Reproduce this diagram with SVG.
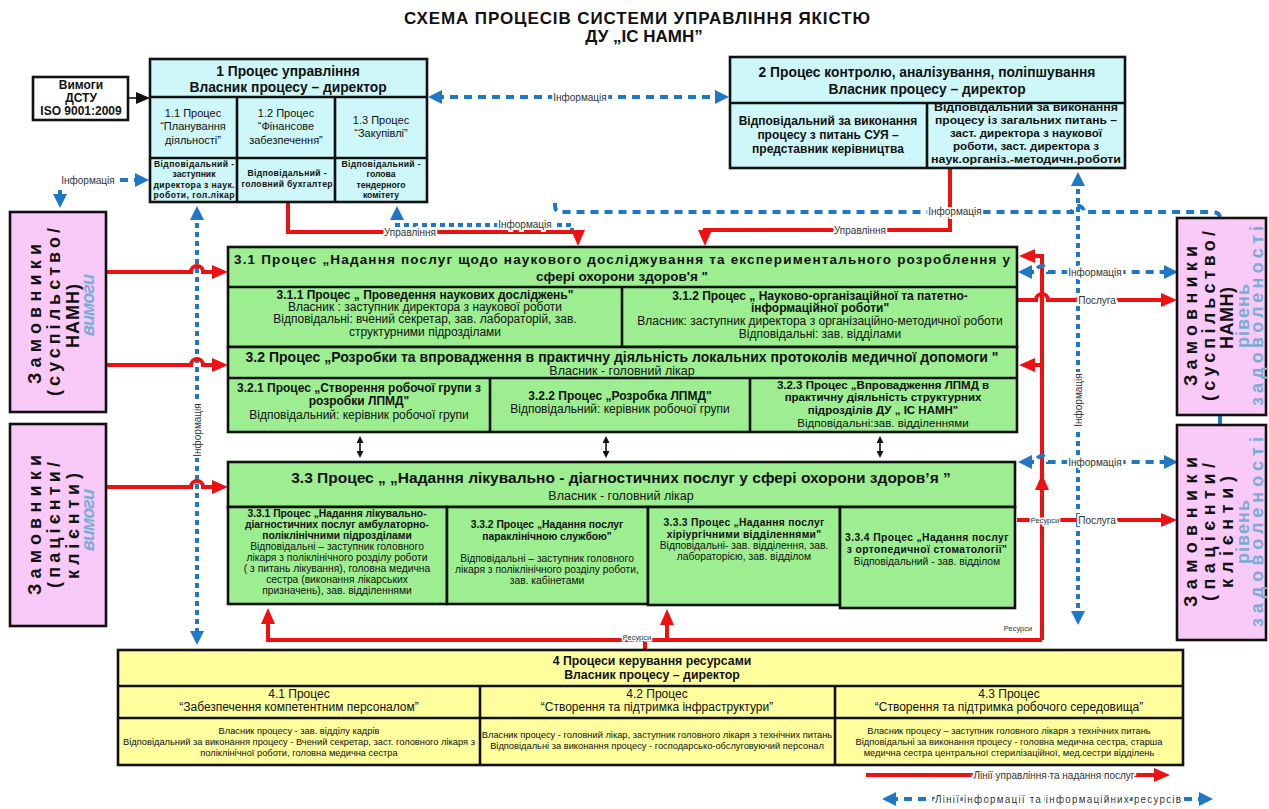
<svg xmlns="http://www.w3.org/2000/svg" width="1269" height="809" viewBox="0 0 1269 809">
<defs>
<style>
text{font-family:"Liberation Sans",Arial,sans-serif;fill:#111;}
.t{text-anchor:middle;}
.b{font-weight:bold;}
.box{stroke:#111;stroke-width:2.6;}
.cy{fill:#cdf7f8;}
.gr{fill:#9cee90;}
.ye{fill:#ffff9e;}
.pk{fill:#f9c9f7;}
.wh{fill:#fff;}
.red{fill:none;stroke:#ee1111;stroke-width:4;}
.bl{fill:none;stroke:#1f78c6;stroke-width:4;stroke-dasharray:8 6;}
.bd{fill:none;stroke:#1f78c6;stroke-width:4;stroke-dasharray:5 4;}
.blk{fill:none;stroke:#111;stroke-width:1.6;}
.lbl{font-size:10px;fill:#333;stroke:#fff;stroke-width:4;paint-order:stroke;text-anchor:middle;}
.sl{font-size:7.5px;fill:#333;stroke:#fff;stroke-width:3;paint-order:stroke;text-anchor:middle;}
.rot{font-size:18px;font-weight:bold;text-anchor:middle;}
.blu{fill:#78acd8;}
.s1{font-size:12px;}
.s3{font-size:10.3px;}
.s4{font-size:9.3px;}
.r1{font-size:8.6px;font-weight:bold;}
</style>
<marker id="ra" markerWidth="16" markerHeight="14" refX="8" refY="7" orient="auto" markerUnits="userSpaceOnUse"><path d="M0,0 L16,7 L0,14 Z" fill="#ee1111"/></marker>
<marker id="ba" markerWidth="14" markerHeight="14" refX="6" refY="7" orient="auto-start-reverse" markerUnits="userSpaceOnUse"><path d="M0,0 L14,7 L0,14 Z" fill="#1f78c6"/></marker>
<marker id="ka" markerWidth="14" markerHeight="12" refX="6" refY="6" orient="auto" markerUnits="userSpaceOnUse"><path d="M0,0 L14,6 L0,12 Z" fill="#111"/></marker>
<marker id="ks" markerWidth="7" markerHeight="7" refX="3" refY="3.5" orient="auto-start-reverse" markerUnits="userSpaceOnUse"><path d="M0,0 L7,3.5 L0,7 Z" fill="#111"/></marker>
</defs>
<rect width="1269" height="809" fill="#fff"/>

<g id="title">
<text x="637" y="24" class="t b" font-size="17" textLength="466" lengthAdjust="spacing">СХЕМА ПРОЦЕСІВ СИСТЕМИ УПРАВЛІННЯ ЯКІСТЮ</text>
<text x="644" y="42" class="t b" font-size="17">ДУ „ІС НАМН”</text>
</g>

<g id="connectors">
<path d="M128,98 H142" class="blk" stroke-width="4" marker-end="url(#ka)"/>
<path d="M436,97 H721" class="bl" marker-start="url(#ba)" marker-end="url(#ba)"/>
<path d="M120,180 H141" class="bl" marker-end="url(#ba)"/>
<path d="M60,190 V200" class="bl" marker-end="url(#ba)"/>
<path d="M197,214 V637" class="bd" marker-start="url(#ba)" marker-end="url(#ba)"/>
<path d="M397,214 V225 H572 V236" class="bd" marker-start="url(#ba)"/>
<path d="M288,203 V232 H578 V238" class="red" marker-end="url(#ra)"/>
<path d="M950,168 V230 H705 V238" class="red" marker-end="url(#ra)"/>
<path d="M555,203 V206 Q555,212 561,212 H1072 A6,6 0 0 1 1084,212 H1212 Q1220,212 1220,218" class="bl"/>
<path d="M1078,180 V617" class="bd" marker-start="url(#ba)" marker-end="url(#ba)"/>
<path d="M106,272 H191 A6,6 0 0 1 203,272 H220" class="red" marker-end="url(#ra)"/>
<path d="M106,365 H191 A6,6 0 0 1 203,365 H220" class="red" marker-end="url(#ra)"/>
<path d="M106,487 H191 A6,6 0 0 1 203,487 H220" class="red" marker-end="url(#ra)"/>
<path d="M1042,640 V256 H1027" class="red" marker-end="url(#ra)"/>
<path d="M1042,365 H1027" class="red" marker-end="url(#ra)"/>
<path d="M1042,492 V482" class="red" marker-end="url(#ra)"/>
<path d="M1017,300 H1036 A6,6 0 0 1 1048,300 H1169" class="red" marker-end="url(#ra)"/>
<path d="M1017,520 H1169" class="red" marker-end="url(#ra)"/>
<path d="M1026,272 H1036 A6,6 0 0 1 1048,272 H1170" class="bl" marker-start="url(#ba)" marker-end="url(#ba)"/>
<path d="M1026,462 H1036 A6,6 0 0 1 1048,462 H1170" class="bl" marker-start="url(#ba)" marker-end="url(#ba)"/>
<path d="M1042,640 H268 V616" class="red" marker-end="url(#ra)"/>
<path d="M667,640 V617" class="red" marker-end="url(#ra)"/>
<path d="M645,651 V640" class="red"/>
<path d="M1220,416 V424" class="bl"/>
<path d="M360,440 V454" class="blk" marker-start="url(#ks)" marker-end="url(#ks)"/>
<path d="M606,440 V454" class="blk" marker-start="url(#ks)" marker-end="url(#ks)"/>
<path d="M880,440 V454" class="blk" marker-start="url(#ks)" marker-end="url(#ks)"/>
<text x="580" y="101" class="lbl">Інформація</text>
<text x="88" y="184" class="lbl">Інформація</text>
<text x="525" y="228" class="lbl">Інформація</text>
<text x="410" y="236" class="lbl">Управління</text>
<text x="860" y="234" class="lbl">Управління</text>
<text x="955" y="215" class="lbl">Інформація</text>
<text transform="translate(201,430) rotate(-90)" class="lbl">Інформація</text>
<text transform="translate(1082,400) rotate(-90)" class="lbl">Інформація</text>
<text x="1095" y="276" class="lbl">Інформація</text>
<text x="1095" y="466" class="lbl">Інформація</text>
<text x="1097" y="304" class="lbl">Послуга</text>
<text x="1097" y="524" class="lbl">Послуга</text>
<text x="1045" y="523" class="sl">Ресурси</text>
<text x="637" y="640" class="sl">Ресурси</text>
<text x="1018" y="631" class="sl">Ресурси</text>
</g>

<g id="iso">
<rect x="33" y="77" width="95" height="43" class="box wh" stroke-width="3"/>
<text x="81" y="89" class="t b" font-size="12">Вимоги</text>
<text x="81" y="102" class="t b" font-size="12">ДСТУ</text>
<text x="81" y="115" class="t b" font-size="12">ISO 9001:2009</text>
</g>

<g id="p1">
<rect x="150" y="59" width="277" height="143" class="box cy"/>
<path d="M150,97 H427 M150,158 H427 M237,97 V202 M335,97 V202" class="box" fill="none"/>
<text x="288" y="76" class="t b" font-size="13.8">1  Процес управління</text>
<text x="288" y="92" class="t b" font-size="13.8">Власник процесу – директор</text>
<text x="193" y="117" class="t" font-size="11">1.1 Процес</text>
<text x="193" y="130" class="t" font-size="11">“Планування</text>
<text x="193" y="144" class="t" font-size="11">діяльності”</text>
<text x="286" y="117" class="t" font-size="11">1.2 Процес</text>
<text x="286" y="130" class="t" font-size="11">“Фінансове</text>
<text x="286" y="144" class="t" font-size="11">забезпечення”</text>
<text x="381" y="124" class="t" font-size="11">1.3 Процес</text>
<text x="381" y="137" class="t" font-size="11">“Закупівлі”</text>
<text x="194" y="167" class="t r1" textLength="80">Відповідальний -</text>
<text x="194" y="177" class="t r1">заступник</text>
<text x="194" y="188" class="t r1" textLength="81">директора з наук.</text>
<text x="194" y="198" class="t r1" textLength="81">роботи, гол.лікар</text>
<text x="287" y="176" class="t r1" textLength="79">Відповідальний -</text>
<text x="287" y="187" class="t r1" textLength="91">головний бухгалтер</text>
<text x="381" y="167" class="t r1" textLength="79">Відповідальний -</text>
<text x="381" y="177" class="t r1">голова</text>
<text x="381" y="188" class="t r1">тендерного</text>
<text x="381" y="198" class="t r1">комітету</text>
</g>

<g id="p2">
<rect x="730" y="57" width="395" height="111" class="box cy"/>
<path d="M730,103 H1125 M927,103 V168" class="box" fill="none"/>
<text x="927" y="77" class="t b" font-size="13.8">2 Процес контролю, аналізування, поліпшування</text>
<text x="927" y="94" class="t b" font-size="13.8">Власник процесу – директор</text>
<text x="828" y="125" class="t b" font-size="12">Відповідальний за виконання</text>
<text x="828" y="139" class="t b" font-size="12">процесу з питань СУЯ –</text>
<text x="828" y="153" class="t b" font-size="12">представник керівництва</text>
<text x="1026" y="111" class="t b" font-size="11.5" textLength="184" lengthAdjust="spacingAndGlyphs">Відповідальний за виконання</text>
<text x="1026" y="124" class="t b" font-size="11.5" textLength="182" lengthAdjust="spacingAndGlyphs">процесу із загальних питань –</text>
<text x="1026" y="137" class="t b" font-size="11.5" textLength="152" lengthAdjust="spacingAndGlyphs">заст. директора з наукової</text>
<text x="1026" y="150" class="t b" font-size="11.5" textLength="146" lengthAdjust="spacingAndGlyphs">роботи, заст. директора з</text>
<text x="1026" y="163" class="t b" font-size="11.5" textLength="190" lengthAdjust="spacingAndGlyphs">наук.організ.-методичн.роботи</text>
</g>

<g id="p31">
<rect x="228" y="247" width="789" height="100" class="box gr"/>
<path d="M228,287 H1017 M622,287 V347" class="box" fill="none"/>
<text x="622" y="264" class="t b" font-size="13.5" textLength="776" lengthAdjust="spacing">3.1 Процес „Надання  послуг  щодо наукового досліджування та експериментального розроблення у</text>
<text x="622" y="281" class="t b" font-size="13.5">сфері охорони здоров'я "</text>
<text x="425" y="299" class="t b s1">3.1.1  Процес „ Проведення наукових досліджень"</text>
<text x="425" y="311" class="t s1">Власник : заступник директора з наукової роботи</text>
<text x="425" y="323" class="t s1">Відповідальні: вчений секретар,  зав. лабораторій, зав.</text>
<text x="425" y="336" class="t s1">структурними підрозділами</text>
<text x="820" y="300" class="t b s1">3.1.2  Процес „ Науково-організаційної та патетно-</text>
<text x="820" y="312" class="t b s1">інформаційної роботи"</text>
<text x="820" y="325" class="t s1">Власник: заступник директора з організаційно-методичної роботи</text>
<text x="820" y="338" class="t s1">Відповідальні: зав. відділами</text>
</g>

<g id="p32">
<rect x="228" y="347" width="789" height="85" class="box gr"/>
<path d="M228,378 H1017 M490,378 V432 M750,378 V432" class="box" fill="none"/>
<text x="622" y="362" class="t b" font-size="14" textLength="753" lengthAdjust="spacing">3.2 Процес „Розробки та впровадження в практичну діяльність локальних протоколів медичної допомоги "</text>
<text x="622" y="375" class="t" font-size="12.5">Власник - головний лікар</text>
<text x="359" y="392" class="t b s1">3.2.1 Процес „Створення робочої групи з</text>
<text x="359" y="405" class="t b s1">розробки ЛПМД"</text>
<text x="359" y="419" class="t s1">Відповідальний: керівник робочої групи</text>
<text x="620" y="400" class="t b s1">3.2.2 Процес „Розробка ЛПМД"</text>
<text x="620" y="413" class="t s1">Відповідальний: керівник робочої групи</text>
<text x="883" y="389" class="t b" font-size="11.5">3.2.3 Процес „Впровадження ЛПМД в</text>
<text x="883" y="401" class="t b" font-size="11.5">практичну діяльність структурних</text>
<text x="883" y="414" class="t b" font-size="11.5">підрозділів ДУ „ ІС НАМН"</text>
<text x="883" y="427" class="t" font-size="11.5">Відповідальні:зав. відділеннями</text>
</g>

<g id="p33">
<rect x="228" y="462" width="787" height="45" class="box gr"/>
<text x="621" y="483" class="t b" font-size="15.5">3.3 Процес „ „Надання лікувально - діагностичних послуг  у сфері охорони здоров’я ”</text>
<text x="621" y="500" class="t" font-size="12.5">Власник - головний лікар</text>
</g>
<g id="p331">
<rect x="228" y="507" width="219" height="97" class="box gr"/>
<text x="337" y="517" class="t b s3">3.3.1  Процес „Надання  лікувально-</text>
<text x="337" y="528" class="t b s3">діагностичних послуг амбулаторно-</text>
<text x="337" y="539" class="t b s3">поліклінічними підрозділами</text>
<text x="337" y="550" class="t s3">Відповідальні – заступник головного</text>
<text x="337" y="561" class="t s3">лікаря з поліклінічного розділу роботи</text>
<text x="337" y="572" class="t s3">( з питань лікування), головна медична</text>
<text x="337" y="583" class="t s3">сестра (виконання лікарських</text>
<text x="337" y="594" class="t s3">призначень), зав. відділеннями</text>
</g>
<g id="p332">
<rect x="447" y="507" width="201" height="97" class="box gr"/>
<text x="547" y="528" class="t b s3">3.3.2  Процес „Надання  послуг</text>
<text x="547" y="540" class="t b s3">параклінічною службою"</text>
<text x="547" y="562" class="t s3">Відповідальні – заступник головного</text>
<text x="547" y="573" class="t s3">лікаря з поліклінічного розділу роботи,</text>
<text x="547" y="584" class="t s3">зав. кабінетами</text>
</g>
<g id="p333">
<rect x="648" y="507" width="192" height="98" class="box gr"/>
<text x="744" y="526" class="t b s3" letter-spacing="0.3">3.3.3  Процес „Надання  послуг</text>
<text x="744" y="538" class="t b s3" letter-spacing="0.3">хіріургічними  відділеннями"</text>
<text x="744" y="549" class="t s3">Відповідальні- зав. відділення, зав.</text>
<text x="744" y="560" class="t s3">лабораторією, зав. відділом</text>
</g>
<g id="p334">
<rect x="840" y="507" width="175" height="101" class="box gr"/>
<text x="927" y="541" class="t b s3" letter-spacing="0.4">3.3.4  Процес „Надання  послуг</text>
<text x="927" y="553" class="t b s3" letter-spacing="0.4">з ортопедичної стоматології"</text>
<text x="927" y="565" class="t s3">Відповідальний - зав. відділом</text>
</g>

<g id="p4">
<rect x="118" y="650" width="1065" height="115" class="box ye"/>
<path d="M118,686 H1183 M118,718 H1183 M480,686 V765 M835,686 V765" class="box" fill="none"/>
<text x="652" y="665" class="t b" font-size="12.3">4 Процеси керування ресурсами</text>
<text x="652" y="679" class="t b" font-size="12.3">Власник процесу – директор</text>
<text x="299" y="698" class="t" font-size="12">4.1 Процес</text>
<text x="299" y="711" class="t" font-size="12">“Забезпечення компетентним персоналом”</text>
<text x="657" y="698" class="t" font-size="12">4.2 Процес</text>
<text x="657" y="711" class="t" font-size="12">“Створення та підтримка інфраструктури”</text>
<text x="1009" y="698" class="t" font-size="12">4.3 Процес</text>
<text x="1009" y="711" class="t" font-size="12">“Створення та підтримка робочого середовища”</text>
<text x="299" y="734" class="t s4">Власник процесу - зав. відділу кадрів</text>
<text x="299" y="745" class="t s4">Відповідальний за виконання процесу  - Вчений секретар, заст. головного лікаря з</text>
<text x="299" y="756" class="t s4">поліклінічної роботи, головна медична сестра</text>
<text x="657" y="738" class="t s4">Власник процесу - головний лікар, заступник головного лікаря з технічних питань</text>
<text x="657" y="749" class="t s4">Відповідальні за виконання процесу  - господарсько-обслуговуючий персонал</text>
<text x="1009" y="734" class="t s4">Власник процесу – заступник головного лікаря з технічних питань</text>
<text x="1009" y="745" class="t s4">Відповідальні за виконання процесу  - головна медична сестра,  старша</text>
<text x="1009" y="756" class="t s4">медична сестра центральної стерилізаційної, мед.сестри відділень</text>
</g>

<g id="custA">
<rect x="10" y="212" width="96" height="200" class="box pk"/>
<text transform="translate(41,314) rotate(-90)" class="rot" textLength="140" lengthAdjust="spacing">Замовники</text>
<text transform="translate(60,312) rotate(-90)" class="rot" textLength="168" lengthAdjust="spacing">(суспільство/</text>
<text transform="translate(79,316) rotate(-90)" class="rot" textLength="64" lengthAdjust="spacing">НАМН)</text>
<text transform="translate(94,305) rotate(-90)" class="rot blu" font-style="italic" textLength="62" lengthAdjust="spacing">вимоги</text>
</g>
<g id="custB">
<rect x="10" y="424" width="96" height="202" class="box pk"/>
<text transform="translate(41,525) rotate(-90)" class="rot" textLength="140" lengthAdjust="spacing">Замовники</text>
<text transform="translate(60,525) rotate(-90)" class="rot" textLength="126" lengthAdjust="spacing">(пацієнти/</text>
<text transform="translate(79,526) rotate(-90)" class="rot" textLength="106" lengthAdjust="spacing">клієнти)</text>
<text transform="translate(94,520) rotate(-90)" class="rot blu" font-style="italic" textLength="62" lengthAdjust="spacing">вимоги</text>
</g>
<g id="custC">
<rect x="1177" y="218" width="89" height="197" class="box pk"/>
<text transform="translate(1197,316) rotate(-90)" class="rot" font-size="17" textLength="140" lengthAdjust="spacing">Замовники</text>
<text transform="translate(1215,316) rotate(-90)" class="rot" font-size="17" textLength="170" lengthAdjust="spacing">(суспільство/</text>
<text transform="translate(1233,318) rotate(-90)" class="rot" font-size="17" textLength="62" lengthAdjust="spacing">НАМН)</text>
<text transform="translate(1249,316) rotate(-90)" class="rot blu" font-size="17" textLength="64" lengthAdjust="spacing">рівень</text>
<text transform="translate(1263,316) rotate(-90)" class="rot blu" font-size="17" textLength="180" lengthAdjust="spacing">задоволеності</text>
</g>
<g id="custD">
<rect x="1177" y="425" width="89" height="215" class="box pk"/>
<text transform="translate(1197,532) rotate(-90)" class="rot" font-size="17" textLength="150" lengthAdjust="spacing">Замовники</text>
<text transform="translate(1215,532) rotate(-90)" class="rot" font-size="17" textLength="138" lengthAdjust="spacing">(пацієнти/</text>
<text transform="translate(1233,532) rotate(-90)" class="rot" font-size="17" textLength="112" lengthAdjust="spacing">клієнти)</text>
<text transform="translate(1249,532) rotate(-90)" class="rot blu" font-size="17" textLength="64" lengthAdjust="spacing">рівень</text>
<text transform="translate(1263,532) rotate(-90)" class="rot blu" font-size="17" textLength="190" lengthAdjust="spacing">задоволеності</text>
</g>

<g id="legend">
<path d="M866,775 H1162" class="red" marker-end="url(#ra)"/>
<path d="M890,799 H1205" class="bl" marker-start="url(#ba)" marker-end="url(#ba)"/>
<text x="1054" y="779" class="lbl" font-size="10.5">Лінії управління та надання послуг</text>
<text x="1058" y="803" class="lbl" font-size="11" textLength="246" lengthAdjust="spacing">Лінії інформації та інформаційних ресурсів</text>
</g>
</svg>
